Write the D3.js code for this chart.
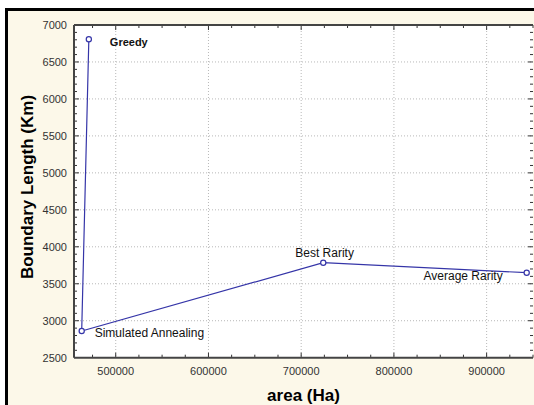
<!DOCTYPE html>
<html lang="en">
<head>
    <meta charset="UTF-8">
    <script src="https://d3js.org/d3.v7.min.js"></script>
    <title>Boundary length vs area</title>
    <style>
        body { margin: 0; background: #fff; }
        svg { display: block; font-family: Arial, "Liberation Sans", sans-serif; }
    </style>
</head>
<body>
    <svg width="534" height="405"></svg>
    <script>
        var width = 534, height = 405;
        var margin = {left: 74, top: 25, right: 1, bottom: 47.3};

        // data, in path order
        var methods = ['Greedy', 'Simulated Annealing', 'Best Rarity', 'Average Rarity'];
        var areaHa = [471000, 463300, 723800, 943200];
        var boundaryKm = [6807, 2861, 3785, 3650];

        var xTicks = [500000, 600000, 700000, 800000, 900000];
        var yTicks = [2500, 3000, 3500, 4000, 4500, 5000, 5500, 6000, 6500, 7000];

        // where each label sits relative to its point
        var labelPos = {
            'Greedy': {dx: 21, dy: 7, anchor: 'start', weight: 'bold', size: 11},
            'Simulated Annealing': {dx: 13, dy: 6, anchor: 'start', weight: 'normal', size: 12},
            'Best Rarity': {dx: -28, dy: -6, anchor: 'start', weight: 'normal', size: 12},
            'Average Rarity': {dx: -24, dy: 7, anchor: 'end', weight: 'normal', size: 12}
        };

        var svg = d3.select('svg');

        // frame
        svg.append('rect')
            .attr('x', 6.5).attr('y', 9.5)
            .attr('width', width).attr('height', height)
            .attr('fill', '#fcf8e9')
            .attr('stroke', '#000')
            .attr('stroke-width', 3);

        var x = d3.scaleLinear()
            .domain([455000, 950000])
            .range([margin.left, width - margin.right]);
        var y = d3.scaleLinear()
            .domain([2500, 7000])
            .range([height - margin.bottom, margin.top]);

        var x0 = x.range()[0], x1 = x.range()[1];
        var y0 = y.range()[0], y1 = y.range()[1];

        svg.append('rect')
            .attr('x', x0).attr('y', y1)
            .attr('width', x1 - x0).attr('height', y0 - y1)
            .attr('fill', '#fff');

        // grid
        var grid = svg.append('g')
            .attr('stroke', '#b8b8b8')
            .attr('stroke-dasharray', '1,2');
        grid.selectAll('.gx')
            .data(xTicks)
            .join('line')
            .attr('x1', d => x(d)).attr('x2', d => x(d))
            .attr('y1', y1).attr('y2', y0);
        grid.selectAll('.gy')
            .data(yTicks.slice(1, -1))
            .join('line')
            .attr('x1', x0).attr('x2', x1)
            .attr('y1', d => y(d)).attr('y2', d => y(d));

        // minor ticks on all four sides, pointing in
        var xMinor = d3.range(475000, 950001, 25000);
        var yMinor = d3.range(2600, 7000, 100);
        var tk = svg.append('g').attr('stroke', '#333').attr('stroke-width', 1);
        [y0, y1].forEach(function(yy, i) {
            var dir = i == 0 ? -1 : 1;
            tk.selectAll(null)
                .data(xMinor)
                .join('line')
                .attr('x1', d => x(d)).attr('x2', d => x(d))
                .attr('y1', yy).attr('y2', d => yy + dir * (d % 100000 == 0 ? 5 : 3));
        });
        [x0, x1].forEach(function(xx, i) {
            var dir = i == 0 ? 1 : -1;
            tk.selectAll(null)
                .data(yMinor)
                .join('line')
                .attr('y1', d => y(d)).attr('y2', d => y(d))
                .attr('x1', xx).attr('x2', d => xx + dir * (d % 500 == 0 ? 5 : 3));
        });

        // axis lines
        var ax = svg.append('g').attr('stroke', '#444').attr('stroke-width', 2);
        ax.append('line').attr('x1', x0).attr('x2', x1).attr('y1', y0).attr('y2', y0);
        ax.append('line').attr('x1', x0).attr('x2', x1).attr('y1', y1).attr('y2', y1);
        ax.append('line').attr('x1', x0).attr('x2', x0).attr('y1', y1).attr('y2', y0);

        // tick labels
        svg.append('g')
            .selectAll('text')
            .data(xTicks)
            .join('text')
            .attr('x', d => x(d))
            .attr('y', y0 + 17.5)
            .attr('text-anchor', 'middle')
            .attr('font-size', 11)
            .attr('fill', '#333')
            .text(d => d);
        svg.append('g')
            .selectAll('text')
            .data(yTicks)
            .join('text')
            .attr('x', x0 - 7)
            .attr('y', d => y(d) + 4)
            .attr('text-anchor', 'end')
            .attr('font-size', 11)
            .attr('fill', '#333')
            .text(d => d);

        // axis titles
        svg.append('text')
            .attr('x', (x0 + x1) / 2)
            .attr('y', 400.5)
            .attr('text-anchor', 'middle')
            .attr('font-size', 17)
            .attr('font-weight', 'bold')
            .text('area (Ha)');
        svg.append('text')
            .attr('transform', 'translate(33,' + 187 + ') rotate(-90)')
            .attr('text-anchor', 'middle')
            .attr('font-size', 17)
            .attr('font-weight', 'bold')
            .text('Boundary Length (Km)');

        // series
        var pts = methods.map((m, i) => ({name: m, a: areaHa[i], b: boundaryKm[i]}));
        var line = d3.line().x(d => x(d.a)).y(d => y(d.b));
        svg.append('path')
            .datum(pts)
            .attr('d', line)
            .attr('fill', 'none')
            .attr('stroke', '#3535a8')
            .attr('stroke-width', 1.2);
        svg.selectAll('circle')
            .data(pts)
            .join('circle')
            .attr('cx', d => x(d.a))
            .attr('cy', d => y(d.b))
            .attr('r', 2.6)
            .attr('fill', '#fff')
            .attr('stroke', '#3535a8')
            .attr('stroke-width', 1.2);

        svg.selectAll('.lbl')
            .data(pts)
            .join('text')
            .attr('class', 'lbl')
            .attr('x', d => x(d.a) + labelPos[d.name].dx)
            .attr('y', d => y(d.b) + labelPos[d.name].dy)
            .attr('text-anchor', d => labelPos[d.name].anchor)
            .attr('font-size', d => labelPos[d.name].size)
            .attr('font-weight', d => labelPos[d.name].weight)
            .attr('fill', '#111')
            .text(d => d.name);
    </script>
</body>
</html>
